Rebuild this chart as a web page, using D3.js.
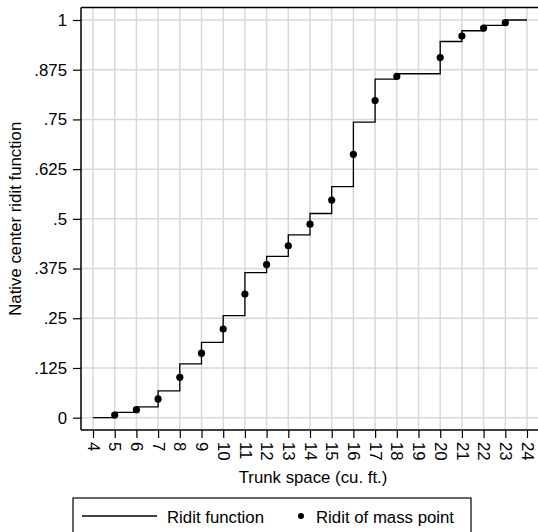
<!DOCTYPE html>
<html><head><meta charset="utf-8">
<script src="https://cdn.jsdelivr.net/npm/d3@7"></script>
<style>body{margin:0;background:#fff}svg{display:block}text{font-family:"Liberation Sans",Arial,sans-serif;fill:#000}</style>
</head><body><svg id="c" width="538" height="532"></svg>
<script>
// Step function (ridit function): x and cumulative value
const stepX = [4,5,6,7,8,9,10,11,12,13,14,15,16,17,18,20,21,22,23,24];
const stepY = [0,0.0135,0.027,0.0676,0.1351,0.1892,0.2568,0.3649,0.4054,0.4595,0.5135,0.5811,0.7432,0.8514,0.8649,0.9459,0.973,0.9865,1,1];
// Ridit of mass points
const massX = [5,6,7,8,9,10,11,12,13,14,15,16,17,18,20,21,22,23];
const massY = [0.0068,0.0203,0.0473,0.1014,0.1622,0.223,0.3108,0.3851,0.4324,0.4865,0.5473,0.6622,0.7973,0.8581,0.9054,0.9595,0.9797,0.9932];
const xTicks = [4,5,6,7,8,9,10,11,12,13,14,15,16,17,18,19,20,21,22,23,24];
const yTicks = [0,0.125,0.25,0.375,0.5,0.625,0.75,0.875,1];
const yTickLabels = ["0",".125",".25",".375",".5",".625",".75",".875","1"];

(function(){
const svg = d3.select("#c");
const pL = 81, pR = 538, pT = 7.5, pB = 430;
const FS = 16.8;
const x = d3.scaleLinear().domain([4,24]).range([93,527]);
const y = d3.scaleLinear().domain([0,1]).range([417.7,20]);

// grid
const g = svg.append("g");
g.selectAll("line.gx").data(xTicks).join("line")
  .attr("x1",d=>x(d)).attr("x2",d=>x(d)).attr("y1",pT).attr("y2",pB)
  .attr("stroke","#d9d9d9").attr("stroke-width",1.5);
g.selectAll("line.gy").data(yTicks).join("line")
  .attr("x1",pL).attr("x2",pR).attr("y1",d=>y(d)).attr("y2",d=>y(d))
  .attr("stroke","#d9d9d9").attr("stroke-width",1.5);

// frame top
svg.append("line").attr("x1",pL).attr("x2",pR).attr("y1",pT).attr("y2",pT)
  .attr("stroke","#000").attr("stroke-width",1.3);

// axes
const ax = svg.append("g").attr("transform",`translate(0,${pB})`)
  .call(d3.axisBottom(x).tickValues(xTicks).tickSize(8).tickSizeOuter(0).tickFormat(d3.format("d")));
ax.attr("font-size",FS).attr("font-family","'Liberation Sans',Arial,sans-serif");
ax.select(".domain").attr("d",`M${pL},0H${pR}`).attr("stroke-width",1.5);
ax.selectAll(".tick line").attr("stroke-width",1.2);
ax.selectAll(".tick text")
  .attr("transform","rotate(90)").attr("text-anchor","start")
  .attr("x",12).attr("y",0).attr("dy","0.35em");

const ay = svg.append("g").attr("transform",`translate(${pL},0)`)
  .call(d3.axisLeft(y).tickValues(yTicks).tickSize(8).tickSizeOuter(0).tickFormat((d,i)=>yTickLabels[i]));
ay.attr("font-size",FS).attr("font-family","'Liberation Sans',Arial,sans-serif");
ay.select(".domain").attr("d",`M0,${pT}V${pB}`).attr("stroke-width",1.5);
ay.selectAll(".tick line").attr("stroke-width",1.2);
ay.selectAll(".tick text").attr("x",-14);

// step line
const line = d3.line().x(d=>x(d[0])).y(d=>y(d[1])).curve(d3.curveStepAfter);
svg.append("path").datum(stepX.map((d,i)=>[d,stepY[i]]))
  .attr("d",line).attr("fill","none").attr("stroke","#000").attr("stroke-width",1.3);

// points
svg.selectAll("circle.m").data(massX.map((d,i)=>[d,massY[i]])).join("circle")
  .attr("cx",d=>x(d[0])).attr("cy",d=>y(d[1])).attr("r",3.6).attr("fill","#000");

// titles
svg.append("text").attr("x",313).attr("y",483).attr("text-anchor","middle")
  .attr("font-size",FS).text("Trunk space (cu. ft.)");
svg.append("text").attr("transform",`translate(21,${(pT+pB)/2}) rotate(-90)`)
  .attr("text-anchor","middle").attr("font-size",FS).text("Native center ridit function");

// legend
svg.append("rect").attr("x",73).attr("y",498).attr("width",398).attr("height",50)
  .attr("fill","#fff").attr("stroke","#000").attr("stroke-width",1.2);
svg.append("line").attr("x1",82).attr("x2",157).attr("y1",516).attr("y2",516)
  .attr("stroke","#000").attr("stroke-width",1.3);
svg.append("text").attr("x",167).attr("y",522.5).attr("font-size",FS).text("Ridit function");
svg.append("circle").attr("cx",301).attr("cy",516).attr("r",3).attr("fill","#000");
svg.append("text").attr("x",316).attr("y",522.5).attr("font-size",FS).text("Ridit of mass point");
})();
</script></body></html>
